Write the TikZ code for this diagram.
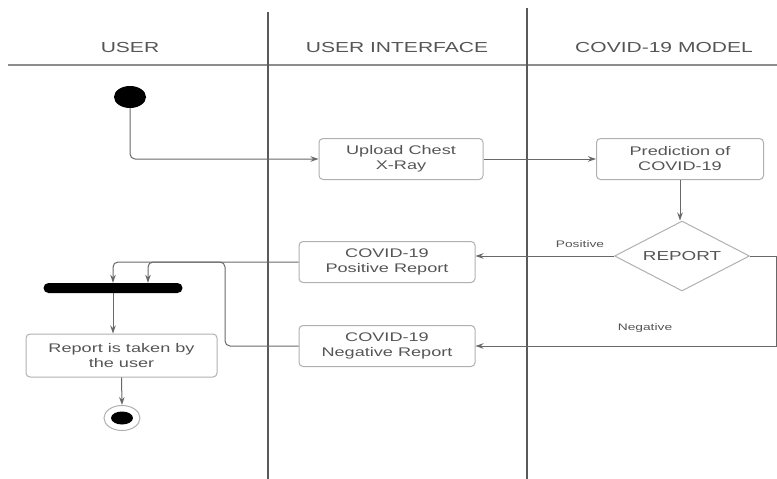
\documentclass[tikz,border=0pt]{standalone}
\usepackage{fontspec}
\setmainfont{Liberation Sans}[FakeStretch=1.45]
\usetikzlibrary{arrows.meta,shapes.geometric}
\definecolor{txt}{HTML}{555555}
\definecolor{wire}{HTML}{686868}
\definecolor{frame}{HTML}{B0B0B0}
\definecolor{lane}{HTML}{5A5A5A}
\begin{document}
\begin{tikzpicture}[x=1pt,y=-1pt,
  head/.style={text=txt,font=\fontsize{14.5}{16}\selectfont},
  act/.style={draw=frame,line width=1pt,rounded corners=4pt,align=center,
    text=txt,font=\fontsize{12.5}{15}\selectfont,inner sep=0pt},
  choice/.style={diamond,draw=frame,line width=1pt,aspect=1.9,inner sep=0pt,
    minimum width=135pt,minimum height=70pt,text=txt,font=\fontsize{13}{15}\selectfont},
  flow/.style={draw=wire,line width=1pt,rounded corners=5pt,
    -{Stealth[length=8pt,width=5.5pt]}},
  tag/.style={text=txt,font=\fontsize{9.5}{11}\selectfont},
  laneline/.style={draw=lane,line width=1.2pt}]
\useasboundingbox (0,0) rectangle (777,479);

% swimlane frame
\draw[draw=frame!80!black,line width=1.2pt] (8,65) -- (777,65);
\draw[laneline] (268,12) -- (268,479);
\draw[laneline] (527,8) -- (527,479);
\node[head] (hu) at (130,48) {USER};
\node[head] (hui) at (397,48) {USER INTERFACE};
\node[head] (hm) at (664,48) {COVID-19 MODEL};

% activity nodes
\node[ellipse,fill=black,minimum width=32pt,minimum height=22pt,inner sep=0pt] (start) at (130,97) {};
\node[act,minimum width=164pt,minimum height=41pt] (upload) at (401,159) {Upload Chest\\X-Ray};
\node[act,minimum width=167pt,minimum height=41pt] (pred) at (680,159) {Prediction of\\COVID-19};
\node[choice] (rep) at (682,256) {REPORT};
\node[act,minimum width=176pt,minimum height=41pt] (pos) at (387,262) {COVID-19\\Positive Report};
\node[act,minimum width=176pt,minimum height=41pt] (neg) at (387,346) {COVID-19\\Negative Report};
\node[rectangle,fill=black,rounded corners=5pt,minimum width=139pt,minimum height=10pt,inner sep=0pt] (bar) at (113,288) {};
\node[act,minimum width=191pt,minimum height=43pt] (taken) at (121.5,355.5) {Report is taken by\\the user};
\node[ellipse,draw=frame,line width=1pt,minimum width=36pt,minimum height=25pt,inner sep=0pt] (end) at (122,418) {};
\node[ellipse,fill=black,minimum width=22pt,minimum height=13pt,inner sep=0pt] (endcore) at (122,418) {};

% connectors
\draw[flow] (start.south) |- (upload.west);
\draw[flow] (upload.east) -- (pred.west);
\draw[flow] (pred.south) -- (pred.south |- rep.north);
\draw[flow] (rep.west) -- (rep.west -| pos.east);
\node[tag] (lpos) at (580,244) {Positive};
\coordinate (rturn) at (776,256);
\draw[flow,rounded corners=0pt] (rep.east) -- (rturn) |- (neg.east);
\node[tag] (lneg) at (645,328) {Negative};
\draw[flow] (pos.west) -| (bar.north);
\draw[flow] (neg.west) -| (225,262) -| ([xshift=35pt]bar.north);
\draw[flow] (bar.south) -- (bar.south |- taken.north);
\draw[flow] (taken.south) -- (end.north);
\end{tikzpicture}
\end{document}
